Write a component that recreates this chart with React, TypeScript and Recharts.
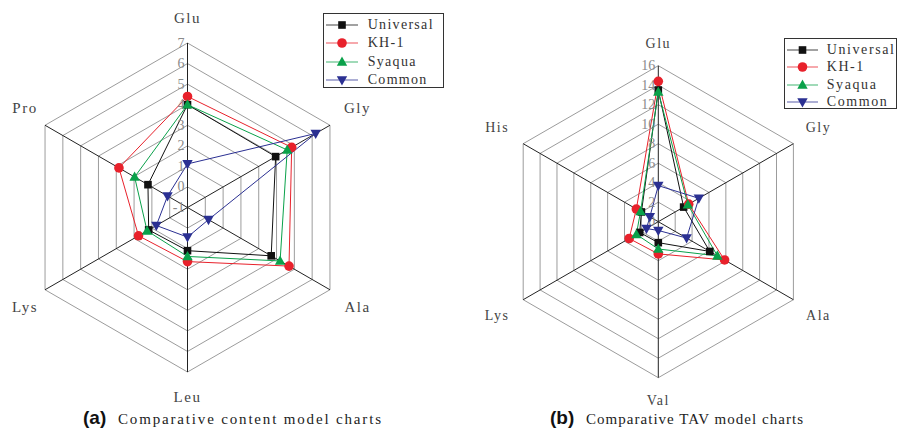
import React from 'react';
import { RadarChart, Radar, PolarGrid, PolarAngleAxis, PolarRadiusAxis, Legend } from 'recharts';

const SERIF = '"Liberation Serif", "DejaVu Serif", serif';

// (a) content model
const axesA = ['Glu', 'Gly', 'Ala', 'Leu', 'Lys', 'Pro'];
const ticksA = [-1, 0, 1, 2, 3, 4, 5, 6, 7];
const universalA = [4.0, 3.95, 3.7, 1.1, 1.18, 1.22];
const kh1A = [4.4, 4.85, 4.7, 1.63, 1.75, 2.85];
const syaquaA = [4.0, 4.6, 4.2, 1.38, 1.27, 1.97];
const commonA = [1.12, 6.2, 0.18, 0.44, 0.75, 0.12];

// (b) TAV model
const axesB = ['Glu', 'Gly', 'Ala', 'Val', 'Lys', 'His'];
const ticksB = [0, 2, 4, 6, 8, 10, 12, 14, 16];
const universalB = [13.5, 3.0, 6.1, 2.15, 2.2, 2.0];
const kh1B = [14.4, 3.6, 7.85, 3.3, 3.45, 2.6];
const syaquaB = [13.3, 3.5, 7.0, 2.8, 2.6, 2.1];
const commonB = [3.7, 4.8, 3.35, 0.9, 1.4, 1.0];

const series = [
  { key: 'universal', name: 'Universal', color: '#111111', marker: 'square' },
  { key: 'kh1', name: 'KH-1', color: '#e8212b', marker: 'circle' },
  { key: 'syaqua', name: 'Syaqua', color: '#0aa14a', marker: 'up' },
  { key: 'common', name: 'Common', color: '#2b3092', marker: 'down' },
];

const buildRows = (axes: string[], u: number[], k: number[], s: number[], c: number[]) =>
  axes.map((axis, i) => ({ axis, universal: u[i], kh1: k[i], syaqua: s[i], common: c[i] }));

const dataA = buildRows(axesA, universalA, kh1A, syaquaA, commonA);
const dataB = buildRows(axesB, universalB, kh1B, syaquaB, commonB);

const Marker = ({ kind, x, y, color }: { kind: string; x: number; y: number; color: string }) => {
  if (kind === 'square') return <rect x={x - 3.8} y={y - 3.8} width={7.6} height={7.6} fill={color} />;
  if (kind === 'circle') return <circle cx={x} cy={y} r={4.8} fill={color} />;
  if (kind === 'up') return <polygon points={`${x},${y - 5.5} ${x + 5.2},${y + 3.8} ${x - 5.2},${y + 3.8}`} fill={color} />;
  return <polygon points={`${x},${y + 5.5} ${x + 5.2},${y - 3.8} ${x - 5.2},${y - 3.8}`} fill={color} />;
};

type LegendOpts = { rowH: number; firstY: number; lineW: number; textX: number; fontSize: number; spacing: number; width: number; height: number };

const makeLegend = (o: LegendOpts) => () => (
  <div style={{ width: o.width, height: o.height, border: '1px solid #333', boxSizing: 'border-box', background: '#fff', position: 'relative' }}>
    {series.map((s, i) => (
      <div key={s.key} style={{ position: 'absolute', left: 0, top: o.firstY + i * o.rowH - 9, height: 18, width: '100%' }}>
        <svg width={o.lineW + 4} height={18} style={{ position: 'absolute', left: 1, top: 0 }}>
          <line x1={1} y1={9} x2={o.lineW + 1} y2={9} stroke={s.color} strokeOpacity={0.65} strokeWidth={1.2} />
          <Marker kind={s.marker} x={o.lineW / 2 + 1} y={9} color={s.color} />
        </svg>
        <span style={{ position: 'absolute', left: o.textX, top: 0, lineHeight: '18px', fontFamily: SERIF, fontSize: o.fontSize, letterSpacing: o.spacing, color: '#333', whiteSpace: 'nowrap' }}>
          {s.name}
        </span>
      </div>
    ))}
  </div>
);

type LabelOpts = { top: number; right: number; left: number; side: number; fontSize: number };

const makeAngleTick = (cx: number, cy: number, R: number, o: LabelOpts) => (p: any) => {
  const dx = p.x - cx;
  const dy = p.y - cy;
  const len = Math.sqrt(dx * dx + dy * dy) || 1;
  const ux = dx / len;
  const uy = dy / len;
  let x: number;
  let y: number;
  if (Math.abs(ux) < 0.1) {
    x = cx;
    y = cy + Math.sign(uy) * (R + o.top);
  } else {
    x = cx + ux * R + (ux > 0 ? o.right : -o.left);
    y = cy + uy * R + Math.sign(uy) * o.side;
  }
  return (
    <text x={x} y={y} textAnchor="middle" dominantBaseline="central" fontFamily={SERIF} fontSize={o.fontSize} letterSpacing={1.5} fill="#444">
      {p.payload.value}
    </text>
  );
};

const radiusTick = (p: any) => (
  <text x={p.x - 3} y={p.y} textAnchor="end" dominantBaseline="central" fontFamily={SERIF} fontSize={14} fill="#8a8a8a">
    {p.payload.value}
  </text>
);

type PanelProps = {
  data: any[];
  ticks: number[];
  domain: [number, number];
  width: number;
  cx: number;
  cy: number;
  R: number;
  labels: LabelOpts;
  legend: LegendOpts & { left: number; top: number };
};

const Panel = ({ data, ticks, domain, width, cx, cy, R, labels, legend }: PanelProps) => (
  <RadarChart width={width} height={431} data={data} cx={cx} cy={cy} outerRadius={R} margin={{ top: 0, right: 0, bottom: 0, left: 0 }}>
    <PolarGrid gridType="polygon" radialLines={false} stroke="#9c9c9c" strokeWidth={1} />
    <PolarGrid gridType="polygon" polarRadius={[]} stroke="#222" strokeWidth={1} />
    <PolarAngleAxis dataKey="axis" axisLine={false} tickLine={false} tick={makeAngleTick(cx, cy, R, labels)} />
    <PolarRadiusAxis angle={90} domain={domain} ticks={ticks} axisLine={false} tickLine={false} tick={radiusTick} />
    {series.map((s) => (
      <Radar
        key={s.key}
        name={s.name}
        dataKey={s.key}
        stroke={s.color}
        strokeWidth={1}
        fill="none"
        fillOpacity={0}
        isAnimationActive={false}
        dot={(p: any) => <Marker key={`${s.key}-${p.index}`} kind={s.marker} x={p.cx} y={p.cy} color={s.color} />}
      />
    ))}
    <Legend
      layout="horizontal"
      align="center"
      verticalAlign="middle"
      content={makeLegend(legend)}
      wrapperStyle={{ left: legend.left, top: legend.top, width: legend.width, height: legend.height }}
    />
  </RadarChart>
);

export default function App() {
  return (
    <div style={{ position: 'absolute', left: 0, top: 0, width: 903, height: 431, background: '#fff', overflow: 'hidden' }}>
      <div style={{ position: 'absolute', left: 0, top: 0 }}>
        <Panel
          data={dataA}
          ticks={ticksA}
          domain={[-1, 7]}
          width={460}
          cx={187.5}
          cy={207.5}
          R={164.5}
          labels={{ top: 25, right: 27.5, left: 20, side: 17, fontSize: 15 }}
          legend={{ left: 322.7, top: 13.3, width: 121, height: 75, rowH: 18.4, firstY: 10.7, lineW: 32, textX: 44, fontSize: 14, spacing: 1.3 }}
        />
      </div>
      <div style={{ position: 'absolute', left: 460, top: 0 }}>
        <Panel
          data={dataB}
          ticks={ticksB}
          domain={[0, 16]}
          width={443}
          cx={198.3}
          cy={221.7}
          R={156}
          labels={{ top: 22.5, right: 25, left: 26, side: 16, fontSize: 14 }}
          legend={{ left: 324, top: 38.3, width: 113, height: 71, rowH: 17.3, firstY: 10.7, lineW: 31, textX: 41.7, fontSize: 14, spacing: 1.6 }}
        />
      </div>
      <svg width={903} height={431} style={{ position: 'absolute', left: 0, top: 0, pointerEvents: 'none' }}>
        <text x={83} y={424} fontFamily='"Liberation Sans", Arial, sans-serif' fontWeight="bold" fontSize={19} fill="#111">(a)</text>
        <text x={118} y={424} fontFamily={SERIF} fontSize={15} textLength={263} lengthAdjust="spacing" fill="#222">Comparative content model charts</text>
        <text x={550} y={424} fontFamily='"Liberation Sans", Arial, sans-serif' fontWeight="bold" fontSize={19} fill="#111">(b)</text>
        <text x={586} y={424} fontFamily={SERIF} fontSize={15} textLength={217} lengthAdjust="spacing" fill="#222">Comparative TAV model charts</text>
      </svg>
    </div>
  );
}
